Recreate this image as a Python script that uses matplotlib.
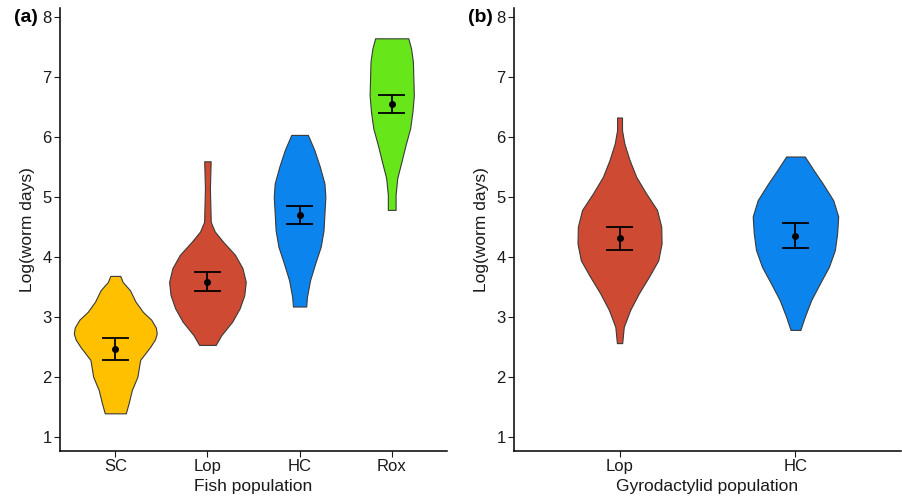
import numpy as np
import matplotlib
matplotlib.use("Agg")
import matplotlib.pyplot as plt

plt.rcParams['font.family'] = ['Liberation Sans', 'DejaVu Sans']

# panel (a): fish population
fish_groups = ["SC", "Lop", "HC", "Rox"]
fish_colors = ["#FFC000", "#CF4A32", "#0B84EE", "#67E61A"]
# violin outlines: y value and half-width (category units)
sc_y = [1.39, 1.56, 1.78, 2.00, 2.28, 2.50, 2.62, 2.72, 2.82, 2.95, 3.08, 3.25, 3.44, 3.58, 3.68]
sc_w = [0.114, 0.145, 0.18, 0.24, 0.27, 0.38, 0.43, 0.45, 0.44, 0.39, 0.30, 0.22, 0.16, 0.08, 0.054]
lop_y = [2.53, 2.69, 2.92, 3.14, 3.36, 3.58, 3.81, 4.03, 4.25, 4.42, 4.58, 5.14, 5.59]
lop_w = [0.09, 0.15, 0.27, 0.35, 0.40, 0.416, 0.38, 0.30, 0.17, 0.08, 0.036, 0.027, 0.035]
hc_y = [3.17, 3.33, 3.61, 3.89, 4.17, 4.44, 4.72, 5.00, 5.22, 5.50, 5.78, 6.03]
hc_w = [0.072, 0.08, 0.114, 0.17, 0.23, 0.26, 0.27, 0.28, 0.27, 0.22, 0.16, 0.09]
rox_y = [4.78, 5.03, 5.31, 5.58, 5.86, 6.14, 6.42, 6.69, 6.97, 7.25, 7.47, 7.64]
rox_w = [0.042, 0.042, 0.06, 0.105, 0.15, 0.20, 0.225, 0.24, 0.235, 0.23, 0.21, 0.18]
fish_mean = [2.47, 3.58, 4.69, 6.545]
fish_lo = [2.28, 3.43, 4.55, 6.40]
fish_hi = [2.65, 3.74, 4.84, 6.69]

# panel (b): gyrodactylid population
gyro_groups = ["Lop", "HC"]
gyro_colors = ["#CF4A32", "#0B84EE"]
glop_y = [2.56, 2.83, 3.11, 3.39, 3.67, 3.94, 4.22, 4.50, 4.78, 5.06, 5.33, 5.61, 5.89, 6.11, 6.32]
glop_w = [0.015, 0.024, 0.06, 0.11, 0.168, 0.22, 0.239, 0.237, 0.213, 0.15, 0.095, 0.057, 0.027, 0.014, 0.014]
ghc_y = [2.78, 3.00, 3.28, 3.56, 3.83, 4.11, 4.39, 4.67, 4.94, 5.22, 5.44, 5.67]
ghc_w = [0.028, 0.053, 0.09, 0.14, 0.19, 0.224, 0.237, 0.243, 0.215, 0.155, 0.104, 0.053]
gyro_mean = [4.31, 4.35]
gyro_lo = [4.11, 4.15]
gyro_hi = [4.49, 4.56]


def draw_panel(ax, groups, colors, shapes, mean, lo, hi, cap, xlabel, tag):
    for i, (yy, ww) in enumerate(shapes):
        yy = np.array(yy)
        ww = np.array(ww)
        ax.fill_betweenx(yy, i + 1 - ww, i + 1 + ww, facecolor=colors[i],
                         edgecolor="#3a3a3a", linewidth=0.8, zorder=2)
    x = np.arange(1, len(groups) + 1)
    ax.vlines(x, lo, hi, color="black", linewidth=1.3, zorder=3)
    ax.hlines(lo, x - cap, x + cap, color="black", linewidth=1.3, zorder=3)
    ax.hlines(hi, x - cap, x + cap, color="black", linewidth=1.3, zorder=3)
    ax.plot(x, mean, "o", color="black", markersize=4, zorder=4)
    ax.set_xlim(0.4, len(groups) + 0.6)
    ax.set_ylim(0.762, 8.145)
    ax.set_xticks(x)
    ax.set_xticklabels(groups)
    ax.set_yticks(range(1, 9))
    ax.set_xlabel(xlabel, fontsize=12.5, color="#1a1a1a", labelpad=3)
    ax.set_ylabel("Log(worm days)", fontsize=12.5, color="#1a1a1a", labelpad=5)
    ax.tick_params(labelsize=12, length=4, width=0.8, colors="#1a1a1a", pad=2)
    for s in ["top", "right"]:
        ax.spines[s].set_visible(False)
    for s in ["left", "bottom"]:
        ax.spines[s].set_linewidth(1.1)
    ax.text(-0.118, 0.978, tag, transform=ax.transAxes, fontsize=14,
            fontweight="bold", ha="left", va="center")


fig = plt.figure(figsize=(9.03, 4.98), dpi=100)
ax1 = fig.add_axes([60 / 903, 47 / 498, 387 / 903, 443 / 498])
ax2 = fig.add_axes([514 / 903, 47 / 498, 387 / 903, 443 / 498])

draw_panel(ax1, fish_groups, fish_colors,
           [(sc_y, sc_w), (lop_y, lop_w), (hc_y, hc_w), (rox_y, rox_w)],
           fish_mean, fish_lo, fish_hi, 0.145, "Fish population", "(a)")
draw_panel(ax2, gyro_groups, gyro_colors,
           [(glop_y, glop_w), (ghc_y, ghc_w)],
           gyro_mean, gyro_lo, gyro_hi, 0.075, "Gyrodactylid population", "(b)")

fig.savefig("out.png", dpi=100)
